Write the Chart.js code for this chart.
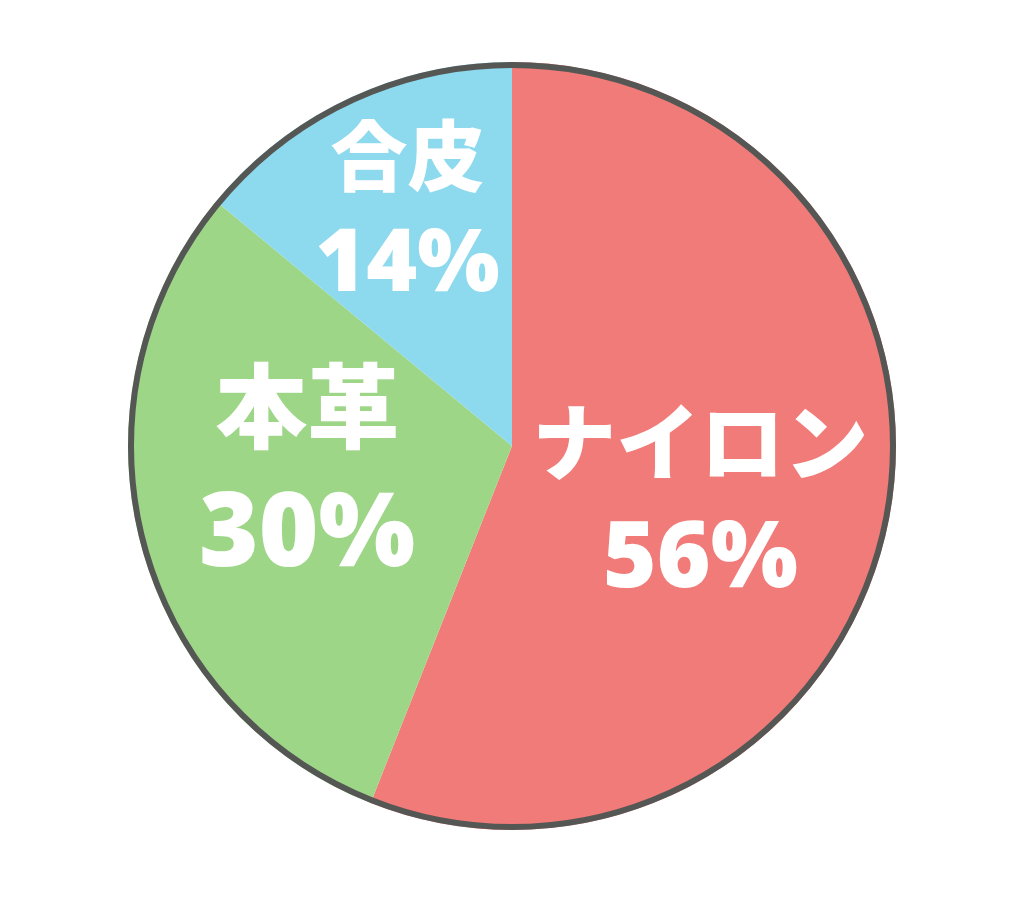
<!DOCTYPE html>
<html>
<head>
<meta charset="utf-8">
<script src="https://cdn.jsdelivr.net/npm/chart.js@4/dist/chart.umd.min.js"></script>
<style>
    html, body { margin: 0; padding: 0; background: #fff; }
    #wrap { width: 1024px; height: 917px; position: relative; }
</style>
</head>
<body>
<div id="wrap"><canvas id="pieChart"></canvas></div>
<script>
// Chart data
const categories = ['ナイロン', '本革', '合皮'];
const shares = [56, 30, 14];
const sliceColors = ['#F07B78', '#9ED688', '#8DD9ED'];

// Label look per slice (name size, percent size, radius fraction, nudge)
const labelStyle = [
    { nameSize: 84, pctSize: 92, radius: 0.51, dx: -4, dy: 17 },
    { nameSize: 92, pctSize: 102, radius: 0.54, dx: -4, dy: -28 },
    { nameSize: 77, pctSize: 87, radius: 0.67, dx: 5, dy: -3 }
];

// Outer ring + white labels drawn over the slices
const pieDecor = {
    id: 'pieDecor',
    afterDatasetsDraw(chart) {
        const ctx = chart.ctx;
        const meta = chart.getDatasetMeta(0);
        const first = meta.data[0];
        const cx = first.x, cy = first.y, R = first.outerRadius;

        ctx.save();
        ctx.beginPath();
        ctx.arc(cx, cy, R - 3, 0, Math.PI * 2);
        ctx.lineWidth = 6;
        ctx.strokeStyle = '#555755';
        ctx.stroke();

        ctx.fillStyle = '#ffffff';
        ctx.textAlign = 'center';
        meta.data.forEach((arc, i) => {
            const st = labelStyle[i];
            const mid = (arc.startAngle + arc.endAngle) / 2;
            const ax = cx + Math.cos(mid) * R * st.radius + st.dx;
            const ay = cy + Math.sin(mid) * R * st.radius + st.dy;
            const gap = (st.nameSize + st.pctSize) * 0.66;

            // name: centred on its line
            ctx.textBaseline = 'middle';
            ctx.font = `900 ${st.nameSize}px "Noto Sans CJK JP"`;
            ctx.fillText(categories[i], ax, ay - gap / 2);
            // percent: digits centred on the line (cap height ~0.714em)
            ctx.textBaseline = 'alphabetic';
            ctx.font = `900 ${st.pctSize}px "Noto Sans"`;
            ctx.fillText(shares[i] + '%', ax, ay + gap / 2 + st.pctSize * 0.357 - 4);
        });
        ctx.restore();
    }
};

function initChart() {
    const ctx = document.getElementById('pieChart').getContext('2d');
    new Chart(ctx, {
        type: 'pie',
        data: {
            labels: categories,
            datasets: [{
                data: shares,
                backgroundColor: sliceColors,
                borderWidth: 0
            }]
        },
        options: {
            responsive: true,
            maintainAspectRatio: false,
            animation: false,
            layout: { padding: { top: 62, bottom: 87, left: 0, right: 0 } },
            plugins: {
                legend: { display: false },
                tooltip: { enabled: false }
            }
        },
        plugins: [pieDecor]
    });
}

Promise.all([
    document.fonts.load('900 80px "Noto Sans CJK JP"'),
    document.fonts.load('900 80px "Noto Sans"')
]).finally(initChart);
</script>
</body>
</html>
